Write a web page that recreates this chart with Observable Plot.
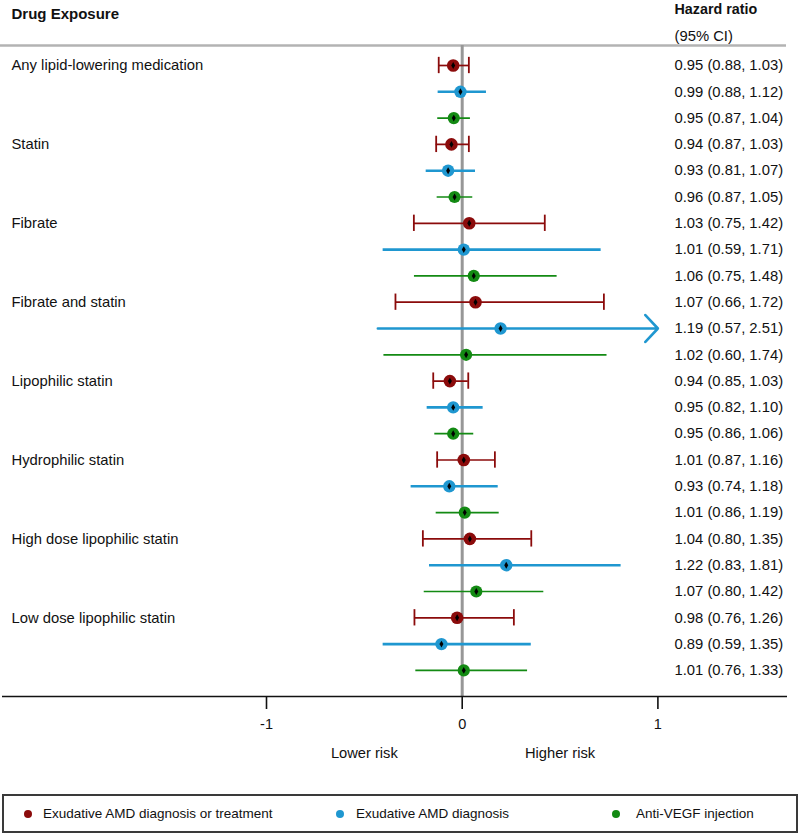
<!DOCTYPE html>
<html><head><meta charset="utf-8">
<script src="https://cdn.jsdelivr.net/npm/d3@7"></script>
<script src="https://cdn.jsdelivr.net/npm/@observablehq/plot@0.6"></script>
<style>
body{margin:0;background:#fff;font-family:Arial,"Liberation Sans",sans-serif;color:#111;}
#wrap{position:relative;width:800px;height:835px;overflow:hidden;}
#legend{position:absolute;left:2px;top:794px;width:796px;height:39px;box-sizing:border-box;border:2px solid #3a3a3a;}
.li{position:absolute;top:0;height:35px;line-height:35px;font-size:13.5px;white-space:nowrap;}
.ld{position:absolute;width:8px;height:8px;border-radius:50%;top:14px;}
</style></head><body>
<div id="wrap"><div id="chart"></div><div id="legend"></div></div>
<script>
// ---- data ----
const groups = ["Any lipid-lowering medication","Statin","Fibrate","Fibrate and statin","Lipophilic statin","Hydrophilic statin","High dose lipophilic statin","Low dose lipophilic statin"];
const seriesNames = ["Exudative AMD diagnosis or treatment","Exudative AMD diagnosis","Anti-VEGF injection"];
const seriesColors = ["#8b0b0b","#1f97d0","#138a13"];
const hrText = [
 "0.95 (0.88, 1.03)","0.99 (0.88, 1.12)","0.95 (0.87, 1.04)",
 "0.94 (0.87, 1.03)","0.93 (0.81, 1.07)","0.96 (0.87, 1.05)",
 "1.03 (0.75, 1.42)","1.01 (0.59, 1.71)","1.06 (0.75, 1.48)",
 "1.07 (0.66, 1.72)","1.19 (0.57, 2.51)","1.02 (0.60, 1.74)",
 "0.94 (0.85, 1.03)","0.95 (0.82, 1.10)","0.95 (0.86, 1.06)",
 "1.01 (0.87, 1.16)","0.93 (0.74, 1.18)","1.01 (0.86, 1.19)",
 "1.04 (0.80, 1.35)","1.22 (0.83, 1.81)","1.07 (0.80, 1.42)",
 "0.98 (0.76, 1.26)","0.89 (0.59, 1.35)","1.01 (0.76, 1.33)"];
// plotted values (log hazard ratio scale), per group
const estRed = [-0.046,-0.055,0.036,0.068,-0.063,0.008,0.039,-0.026];
const loRed  = [-0.120,-0.133,-0.247,-0.341,-0.148,-0.128,-0.201,-0.244];
const hiRed  = [0.034,0.034,0.422,0.724,0.031,0.167,0.353,0.264];
const estBlue = [-0.009,-0.072,0.008,0.196,-0.046,-0.066,0.225,-0.106];
const loBlue  = [-0.123,-0.184,-0.404,-0.431,-0.179,-0.261,-0.167,-0.404];
const hiBlue  = [0.124,0.068,0.710,1.0,0.107,0.184,0.812,0.353];
const arrowBlue = [false,false,false,true,false,false,false,false];
const estGreen = [-0.043,-0.039,0.059,0.020,-0.046,0.013,0.072,0.008];
const loGreen  = [-0.125,-0.128,-0.244,-0.400,-0.140,-0.133,-0.194,-0.237];
const hiGreen  = [0.042,0.054,0.485,0.740,0.059,0.189,0.417,0.334];
const xTicks = [-1,0,1];

// ---- build table ----
const est = [estRed, estBlue, estGreen], lo = [loRed, loBlue, loGreen], hi = [hiRed, hiBlue, hiGreen];
const rows = [];
groups.forEach((g, gi) => {
  for (let s = 0; s < 3; s++) {
    const row = gi * 3 + s;
    rows.push({row, group: g, s, series: seriesNames[s], est: est[s][gi], lo: lo[s][gi], hi: hi[s][gi],
      text: hrText[row], arrow: s === 1 && arrowBlue[gi]});
  }
});
const groupRows = rows.filter(d => d.s === 0);

// layout helpers (pixel -> scale units)
const xPx = p => (p - 461.7) / 195.7;
const yPx = p => (p - 65) / 26.3;
const ff = 'Arial, "Liberation Sans", sans-serif';

const lineW = [1.7, 2.6, 1.7];
const dotR = [6.3, 6.2, 6.1];
const marks = [
  Plot.ruleY([yPx(45)], {x1: xPx(0), x2: xPx(786), stroke: "#b3b3b3", strokeWidth: 2.5}),
  Plot.ruleX([0], {y1: yPx(45), y2: yPx(696), stroke: "#979797", strokeWidth: 3}),
  Plot.ruleY([yPx(696)], {x1: xPx(2), x2: xPx(787), stroke: "#111", strokeWidth: 1.6}),
  Plot.axisX({ticks: xTicks, tickSize: 13, tickPadding: 9, tickFormat: d => String(d), fontSize: 14.5, stroke: "#111", strokeWidth: 1.6})
];
for (let s = 0; s < 3; s++) {
  const sr = rows.filter(d => d.s === s);
  marks.push(Plot.ruleY(sr.filter(d => !d.arrow), {y: "row", x1: "lo", x2: "hi", stroke: seriesColors[s], strokeWidth: lineW[s]}));
  const ar = sr.filter(d => d.arrow);
  if (ar.length) marks.push(Plot.arrow(ar, {x1: "lo", x2: "hi", y1: "row", y2: "row", stroke: seriesColors[s], strokeWidth: lineW[s], headLength: 10.6, headAngle: 94}));
  if (s === 0) {
    marks.push(Plot.ruleX(sr, {x: "lo", y1: d => d.row - 0.31, y2: d => d.row + 0.31, stroke: seriesColors[s], strokeWidth: 1.8}));
    marks.push(Plot.ruleX(sr, {x: "hi", y1: d => d.row - 0.31, y2: d => d.row + 0.31, stroke: seriesColors[s], strokeWidth: 1.8}));
  }
  marks.push(Plot.dot(sr, {x: "est", y: "row", r: dotR[s], fill: seriesColors[s], stroke: "none"}));
}
marks.push(Plot.dot(rows, {x: "est", y: "row", symbol: "diamond", r: 2.1, fill: "#000"}));
marks.push(Plot.text(groupRows, {y: "row", text: "group", frameAnchor: "left", dx: 11, textAnchor: "start", fontSize: 14.8, fill: "#111"}));
marks.push(Plot.text(rows, {y: "row", x: xPx(674), text: "text", textAnchor: "start", fontSize: 14.8, fill: "#111"}));
marks.push(Plot.text(["Drug Exposure"], {x: xPx(11), y: yPx(14), text: d => d, textAnchor: "start", fontSize: 15, fontWeight: "bold", fill: "#111"}));
marks.push(Plot.text(["Hazard ratio"], {x: xPx(674), y: yPx(9), text: d => d, textAnchor: "start", fontSize: 14.3, fontWeight: "bold", fill: "#111"}));
marks.push(Plot.text(["(95% CI)"], {x: xPx(674), y: yPx(36), text: d => d, textAnchor: "start", fontSize: 14.8, fill: "#111"}));
marks.push(Plot.text(["Lower risk", "Higher risk"], {x: (d, i) => i ? 0.5 : -0.5, y: yPx(753), text: d => d, textAnchor: "middle", fontSize: 14.7, fill: "#111"}));

const H = 790;
const chart = Plot.plot({
  width: 800, height: H,
  marginTop: 0, marginBottom: H - 696, marginLeft: 0, marginRight: 0,
  x: {domain: [-1, 1], range: [266, 657.4], axis: null},
  y: {domain: [0, 23], range: [65, 65 + 26.3 * 23], axis: null},
  style: {fontFamily: ff, fontSize: "13px", color: "#111", background: "#fff", overflow: "visible"},
  marks
});
document.getElementById("chart").appendChild(chart);

// legend (HTML, below the SVG)
const legendDotX = [28, 340, 616];
const legendTextX = [43, 356, 636];
const leg = document.getElementById("legend");
seriesNames.forEach((n, i) => {
  const dot = document.createElement("div");
  dot.className = "ld";
  dot.style.left = (legendDotX[i] - 4 - 4) + "px";
  dot.style.background = seriesColors[i];
  leg.appendChild(dot);
  const t = document.createElement("div");
  t.className = "li";
  t.style.left = (legendTextX[i] - 4) + "px";
  t.textContent = n;
  leg.appendChild(t);
});
</script>
</body></html>
